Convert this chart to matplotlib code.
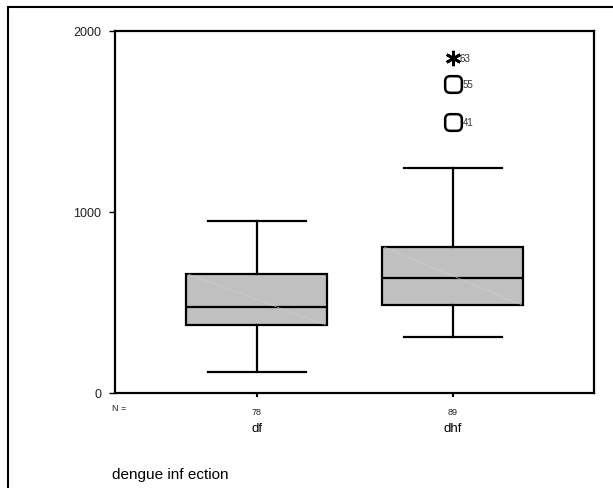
import matplotlib.pyplot as plt
from matplotlib.patches import Rectangle, BoxStyle

plt.rcParams['font.family'] = ['Liberation Sans', 'DejaVu Sans']

groups = ["df", "dhf"]
counts = [78, 89]
whisker_low = [116, 309]
q1 = [376, 486]
median = [475, 635]
q3 = [657, 807]
whisker_high = [950, 1243]

outlier_group = [2, 2, 2]
outlier_value = [1851, 1707, 1497]
outlier_id = ["63", "55", "41"]
outlier_extreme = [True, False, False]

fig = plt.figure(figsize=(6.13, 4.89), dpi=100)
ax = fig.add_axes([115 / 613, 1 - 394 / 489, (594 - 115) / 613, (394 - 32) / 489])

stats = []
for i in range(len(groups)):
    stats.append({"med": median[i], "q1": q1[i], "q3": q3[i],
                  "whislo": whisker_low[i], "whishi": whisker_high[i],
                  "fliers": [], "label": groups[i]})

pos = [1, 2]
ax.bxp(stats, positions=pos, widths=0.72, patch_artist=True, showfliers=False,
       boxprops=dict(facecolor="#c0c0c0", edgecolor="black", linewidth=1.6),
       medianprops=dict(color="black", linewidth=1.6),
       whiskerprops=dict(color="black", linewidth=1.6),
       capprops=dict(color="black", linewidth=1.6),
       capwidths=0.5)

# faint diagonal artefact in the boxes
for i, p in enumerate(pos):
    ax.plot([p - 0.35, p + 0.35], [q3[i], q1[i]], color="#d4d4d4", lw=0.5,
            ls=(0, (3, 1)), zorder=3)

# rounded square marker
rsq = BoxStyle.Round(pad=0, rounding_size=0.3)(-0.5, -0.5, 1, 1, 1)

for g, v, lab, ext in zip(outlier_group, outlier_value, outlier_id, outlier_extreme):
    if ext:
        ax.plot(g, v, marker=(6, 2, 0), ms=11, mec="black", mew=2, ls="none")
        off = 5
    else:
        ax.plot(g, v, marker=rsq, ms=12, mfc="white", mec="black", mew=1.8, ls="none")
        off = 7
    ax.annotate(lab, (g, v), xytext=(off, 0), textcoords="offset points",
                fontsize=7, color="#333333", va="center", ha="left")

ax.set_xlim(0.276, 2.72)
ax.set_ylim(0, 2000)
ax.set_yticks([0, 1000, 2000])
ax.set_xticks(pos)
ax.set_xticklabels([""] * len(pos))
ax.tick_params(axis="y", direction="out", length=4, width=1, labelsize=9,
               pad=6, labelcolor="#222222")
ax.tick_params(axis="x", direction="out", length=3, width=1.5)
for s in ax.spines.values():
    s.set_linewidth(1.6)

for p, n, g in zip(pos, counts, groups):
    ax.text(p, -0.04, str(n), transform=ax.get_xaxis_transform(),
            ha="center", va="top", fontsize=6.5, color="#222222")
    ax.text(p, -0.08, g, transform=ax.get_xaxis_transform(),
            ha="center", va="top", fontsize=9.5)
ax.text(112 / 613, 1 - 409 / 489, "N =", transform=fig.transFigure,
        ha="left", va="center", fontsize=6.5, color="#222222")

fig.text(112 / 613, 1 - 475 / 489, "dengue inf ection", ha="left", va="center",
         fontsize=11)

fig.add_artist(Rectangle((8 / 613, -0.1), 1.2, 1 - 8 / 489 + 0.1,
                         transform=fig.transFigure, fill=False,
                         edgecolor="black", linewidth=1.5))

fig.savefig("out.png", dpi=100)
